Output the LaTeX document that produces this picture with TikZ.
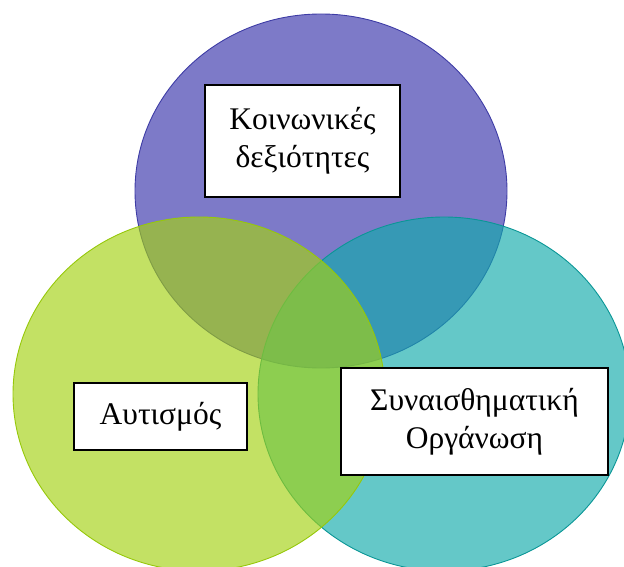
\documentclass[tikz,border=0pt]{standalone}
\usepackage{fontspec}
\setmainfont{Liberation Serif}
\usetikzlibrary{positioning,backgrounds,shapes.geometric}
\definecolor{vennpurple}{RGB}{55,51,171}
\definecolor{vennpurpleline}{RGB}{62,60,165}
\definecolor{venngreen}{RGB}{163,209,17}
\definecolor{venngreenline}{RGB}{150,200,10}
\definecolor{vennteal}{RGB}{17,171,171}
\definecolor{venntealline}{RGB}{10,150,150}
\tikzset{
  venn/.style={ellipse, draw=#1line, fill=#1, fill opacity=.65, draw opacity=1,
    line width=.9pt, minimum width=372pt, minimum height=354pt, inner sep=0pt},
  labelbox/.style={draw=black, line width=1.6pt, fill=white, align=center,
    font=\fontsize{31.5}{38}\selectfont, text=black, inner sep=0pt}
}

\begin{document}
\begin{tikzpicture}[x=1pt,y=1pt]
  \useasboundingbox (0,0) rectangle (624,566);
  \clip (0,0) rectangle (624,566);

  \node[venn=vennpurple] (social) at (321,375) {};
  \node[venn=vennteal] (emotion) at (444,172) {};
  \node[venn=venngreen] (autism) at (199,172) {};

  \node[labelbox, minimum width=195pt, minimum height=112pt] (sociallabel) at (302.5,425) {Κοινωνικές\\δεξιότητες};
  \node[labelbox, minimum width=173pt, minimum height=67pt] (autismlabel) at (160.5,149.5) {Αυτισμός};
  \node[labelbox, minimum width=267pt, minimum height=107pt] (emotionlabel) at (474.5,144.5) {Συναισθηματική\\Οργάνωση};
\end{tikzpicture}
\end{document}
